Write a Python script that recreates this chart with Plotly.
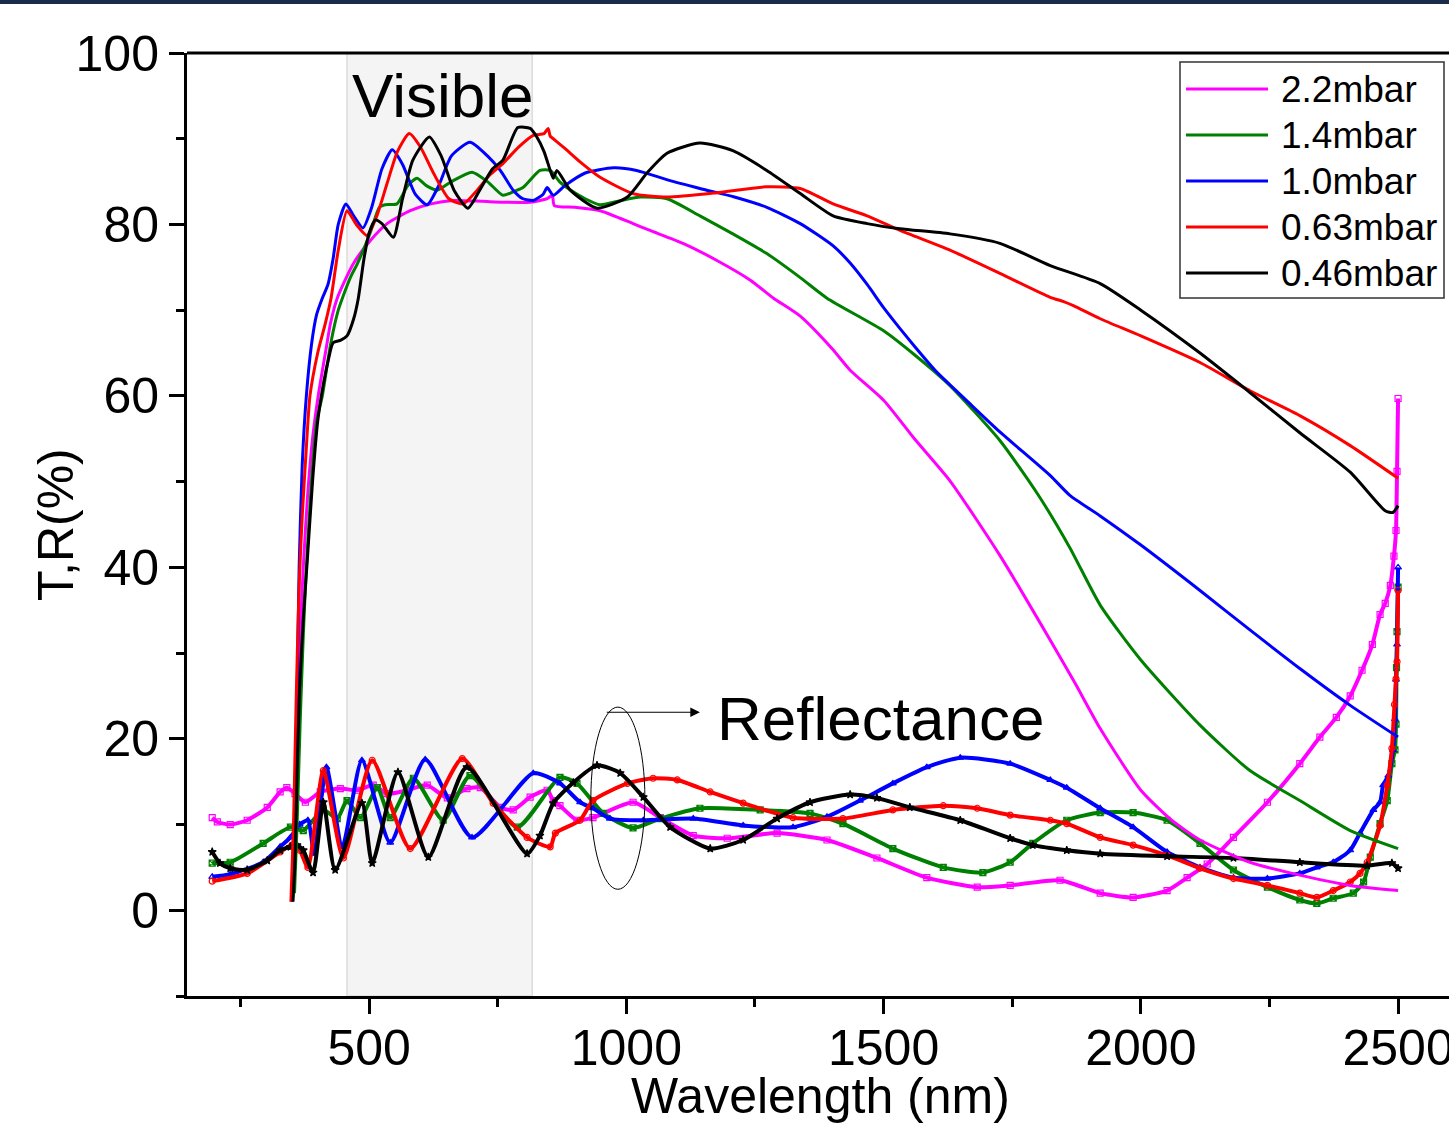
import plotly.graph_objects as go

# ---------------- data ----------------
names = ["2.2mbar", "1.4mbar", "1.0mbar", "0.63mbar", "0.46mbar"]
colors = ["#ff00ff", "#008000", "#0000ff", "#ff0000", "#000000"]
r_symbols = ["square-open", "square-x-open", "triangle-up-open", "circle-open", "star"]

x_ticks = [500, 1000, 1500, 2000, 2500]
y_ticks = [0, 20, 40, 60, 80, 100]

# Transmittance (wavelength nm, %)
T_22 = [(350, 1), (355, 8), (360, 20), (366, 32), (372, 40), (380, 48), (390, 55), (401, 60), (415, 65),
        (425, 68.5), (438, 71.4), (469, 75.4), (502, 78.1), (535, 80.1), (580, 81.6), (620, 82.4),
        (663, 82.8), (720, 82.7), (760, 82.6), (813, 82.6), (846, 83), (856, 83.4), (860, 82.2),
        (900, 82), (949, 81.6), (1013, 80.1), (1046, 79.3), (1110, 77.8), (1176, 75.8), (1241, 73.5),
        (1286, 71.4), (1338, 69.3), (1400, 65.5), (1435, 63), (1500, 59.5), (1560, 55), (1629, 50.1),
        (1726, 41.4), (1824, 31.5), (1872, 26.5), (1921, 21.2), (2000, 14), (2060, 10.5), (2115, 8.2),
        (2212, 5.6), (2309, 4.1), (2407, 2.9), (2500, 2.3)]
T_14 = [(355, 2), (360, 10), (366, 22), (372, 32), (378, 40), (388, 50), (398, 57), (409, 60), (425, 66),
        (440, 70), (448, 71.4), (465, 74), (477, 75.4), (502, 79), (520, 82), (531, 82.3), (554, 82.4),
        (575, 84.5), (593, 85.4), (612, 84.5), (632, 84), (660, 85), (700, 86.1), (730, 85), (760, 83.4),
        (780, 83.8), (799, 84.3), (832, 86.3), (852, 86.3), (870, 85), (884, 84.3), (920, 83), (949, 82.3),
        (990, 82.8), (1027, 83.2), (1079, 83), (1143, 81), (1207, 78.9), (1273, 76.6), (1338, 73.8),
        (1390, 71.4), (1500, 67.6), (1560, 64.8), (1629, 61.2), (1726, 54.8), (1800, 48.5), (1862, 42.3),
        (1921, 35.6), (2000, 29.2), (2115, 21.6), (2212, 16.3), (2309, 12.8), (2407, 9.3), (2500, 7.2)]
T_10 = [(350, 1), (355, 10), (360, 25), (364, 40), (370, 52), (378, 60), (388, 66), (398, 69.5), (409, 71.4),
        (420, 73), (430, 76), (440, 80), (455, 82.4), (470, 81), (488, 79.6), (505, 82), (525, 86.5),
        (545, 88.7), (565, 87), (590, 83.5), (613, 82.3), (635, 84.5), (660, 88), (696, 89.6), (730, 88),
        (755, 86.3), (780, 84), (799, 83), (819, 82.8), (838, 83.5), (846, 84.3), (858, 83.4), (880, 84.5),
        (920, 86), (975, 86.6), (1020, 86.3), (1080, 85.2), (1143, 84.2), (1210, 83.2), (1273, 82),
        (1338, 80.1), (1402, 77.5), (1435, 75.5), (1468, 73), (1500, 70.3), (1530, 68), (1560, 65.8),
        (1600, 63), (1629, 61.3), (1664, 59.3), (1726, 55.8), (1824, 50.7), (1862, 48.4), (1921, 46),
        (2000, 42.6), (2115, 37.3), (2212, 32.7), (2309, 28.2), (2407, 23.9), (2500, 20.2)]
T_063 = [(348, 1), (353, 10), (358, 24), (364, 38), (370, 46), (377, 53), (385, 60), (400, 65), (415, 68.5),
         (426, 71.4), (440, 77), (457, 81.6), (475, 80), (496, 78.7), (515, 81), (535, 84.8), (555, 88.5),
         (578, 90.6), (600, 89), (625, 86), (655, 83), (683, 82.4), (710, 84), (735, 85.8), (760, 87.1),
         (790, 89), (819, 90.4), (840, 90.6), (848, 91.2), (852, 90.3), (858, 90), (880, 88.9), (910, 87.3),
         (949, 85.5), (1013, 83.6), (1079, 83.2), (1176, 83.7), (1273, 84.4), (1338, 84.2), (1402, 82.4),
         (1468, 81), (1532, 79.3), (1629, 77), (1726, 74.3), (1824, 71.5), (1850, 71), (1870, 70.5),
         (1921, 69), (2000, 67), (2115, 63.9), (2212, 60.6), (2309, 57.7), (2407, 54.2), (2500, 50.4)]
T_046 = [(352, 1), (356, 6), (360, 16), (365, 26), (372, 34), (380, 41), (390, 50), (400, 57), (410, 61),
         (420, 64), (430, 66.2), (445, 66.5), (457, 67), (470, 69), (479, 71.4), (490, 76), (500, 79),
         (512, 80.5), (525, 80.1), (547, 78.5), (565, 83), (585, 87.5), (617, 90.2), (640, 88), (665, 84),
         (692, 81.9), (715, 84), (740, 86.5), (760, 87.5), (789, 91.3), (813, 91.2), (826, 90.2), (840, 88.5),
         (852, 86.3), (858, 85.4), (865, 86.3), (891, 84), (943, 81.9), (1002, 83.2), (1040, 86), (1079, 88.3),
         (1143, 89.5), (1207, 88.6), (1273, 86.3), (1338, 83.6), (1402, 81), (1468, 80.1), (1532, 79.5),
         (1629, 78.9), (1726, 77.8), (1824, 75.2), (1921, 73.1), (2000, 70), (2115, 65), (2212, 60.4),
         (2309, 55.7), (2407, 51.1), (2475, 46.6), (2490, 46.4), (2500, 47.2)]

# Reflectance (wavelength nm, %)
R_22 = [(195, 10.8), (205, 10.3), (230, 10.0), (263, 10.5), (302, 12.0), (327, 13.8), (340, 14.3), (356, 13.6),
        (376, 12.6), (405, 13.8), (444, 14.2), (477, 14.0), (508, 14.6), (535, 13.6), (574, 14.0), (613, 14.6),
        (652, 13.1), (690, 14.2), (716, 14.3), (755, 12.0), (780, 11.7), (813, 13.2), (846, 14.0), (858, 12.8),
        (871, 12.2), (904, 10.5), (935, 10.8), (1013, 12.6), (1066, 10.8), (1130, 8.7), (1196, 8.4),
        (1293, 9.0), (1390, 8.2), (1487, 6.1), (1584, 3.8), (1682, 2.7), (1746, 2.9), (1843, 3.5), (1921, 2.0),
        (1985, 1.5), (2051, 2.3), (2090, 3.8), (2129, 5.4), (2180, 8.5), (2246, 12.6), (2309, 17.1),
        (2348, 20.2), (2380, 22.5), (2407, 25), (2430, 28), (2450, 31), (2465, 34.5), (2475, 35.8),
        (2485, 37.9), (2492, 41.3), (2496, 44.3), (2498, 51.2), (2500, 59.7)]
R_14 = [(195, 5.5), (230, 5.6), (294, 7.8), (347, 9.7), (372, 9.3), (411, 11.7), (438, 10.7), (457, 12.8),
        (483, 10.8), (516, 14.3), (541, 10.8), (586, 15.4), (644, 10.5), (696, 15.7), (788, 9.7), (871, 15.5),
        (904, 14.8), (955, 11.3), (1013, 9.6), (1066, 10.7), (1143, 11.9), (1260, 11.7), (1357, 11.3),
        (1421, 10.1), (1518, 7.2), (1616, 5.0), (1693, 4.4), (1746, 5.6), (1790, 7.8), (1856, 10.5),
        (1921, 11.4), (1985, 11.4), (2051, 10.5), (2115, 7.8), (2180, 4.7), (2246, 2.7), (2309, 1.2),
        (2342, 0.8), (2374, 1.4), (2413, 2.0), (2433, 3.3), (2446, 6.2), (2465, 10.1), (2479, 12.8),
        (2488, 17.1), (2494, 18.7), (2496, 21.7), (2497, 28.3), (2498, 32.5), (2500, 37.7)]
R_10 = [(195, 3.9), (230, 4.2), (294, 5.6), (327, 7.4), (347, 8.5), (365, 10), (381, 10.5), (393, 6.6),
        (417, 16.7), (448, 7.4), (486, 17.5), (541, 7.9), (609, 17.6), (700, 8.5), (819, 16.0), (871, 14.8),
        (910, 12.6), (935, 11.9), (968, 10.7), (1033, 10.5), (1130, 10.7), (1227, 9.9), (1324, 9.7),
        (1390, 10.9), (1454, 12.8), (1518, 14.8), (1584, 16.7), (1649, 17.8), (1746, 17.1), (1824, 15.2),
        (1856, 14.3), (1921, 11.9), (1985, 9.7), (2051, 6.8), (2115, 5.0), (2180, 3.8), (2246, 3.7),
        (2309, 4.3), (2342, 5.0), (2374, 5.6), (2407, 7.0), (2426, 9.0), (2452, 11.7), (2465, 12.6),
        (2471, 14.6), (2481, 15.7), (2490, 18.7), (2494, 22.3), (2496, 26.9), (2498, 31), (2500, 40)]
R_063 = [(195, 3.4), (263, 4.3), (327, 6.8), (350, 7.6), (365, 7), (381, 5.0), (411, 16.3), (450, 6.1),
         (506, 17.5), (580, 7.2), (681, 17.7), (741, 12.5), (807, 8.5), (852, 7.4), (862, 9.0), (910, 10.5),
         (935, 12.8), (1002, 14.8), (1052, 15.4), (1099, 15.2), (1163, 13.8), (1227, 12.5), (1324, 10.8),
         (1421, 10.7), (1518, 11.7), (1616, 12.2), (1682, 11.9), (1746, 11.1), (1824, 10.5), (1856, 10.1),
         (1921, 8.5), (1985, 7.6), (2051, 6.4), (2115, 4.9), (2180, 3.7), (2246, 2.9), (2309, 2.0),
         (2342, 1.5), (2374, 2.3), (2407, 3.3), (2426, 4.3), (2440, 5.6), (2465, 9.9), (2479, 14.6),
         (2488, 18.9), (2493, 24), (2496, 27), (2498, 29), (2500, 37.3)]
R_046 = [(195, 6.8), (210, 5.5), (230, 4.9), (263, 4.7), (302, 5.8), (327, 7.0), (347, 7.4), (360, 7.6),
         (372, 7.0), (391, 4.4), (411, 12.6), (434, 4.7), (486, 12.5), (506, 5.5), (556, 16.1), (615, 6.2),
         (690, 16.7), (807, 6.6), (832, 8.7), (858, 12.5), (897, 14.9), (943, 16.9), (988, 16.0),
         (1033, 13.2), (1085, 9.7), (1163, 7.2), (1227, 8.2), (1293, 10.7), (1357, 12.6), (1435, 13.5),
         (1487, 13.1), (1551, 12.0), (1649, 10.5), (1746, 8.4), (1790, 7.6), (1856, 7.0), (1921, 6.6),
         (2051, 6.3), (2180, 6.1), (2309, 5.6), (2440, 5.2), (2488, 5.5), (2500, 4.9)]

T_all = [T_22, T_14, T_10, T_063, T_046]
R_all = [R_22, R_14, R_10, R_063, R_046]

visible_band = (457, 817)

# ---------------- figure ----------------
W, H = 1449, 1126
ML, MT, MB, MR = 187, 53, 130, 0
FONT = "Liberation Sans, Arial, sans-serif"

fig = go.Figure()

for name, c, sym, R in zip(names, colors, r_symbols, R_all):
    fig.add_trace(go.Scatter(
        x=[p[0] for p in R], y=[p[1] for p in R], mode="lines+markers", name=name + " R",
        line=dict(color=c, width=4, shape="spline", smoothing=0.6),
        marker=dict(symbol=sym, size=6, color=c, line=dict(color=c, width=1.2)),
        showlegend=False))

for name, c, T in zip(names, colors, T_all):
    fig.add_trace(go.Scatter(
        x=[p[0] for p in T], y=[p[1] for p in T], mode="lines", name=name + " T",
        line=dict(color=c, width=3, shape="spline", smoothing=0.6),
        showlegend=False))

pw = W - ML - MR
ph = H - MT - MB


def px2paper_x(px):
    return (px - ML) / pw


def px2paper_y(py):
    return (H - MB - py) / ph


shapes = [
    # visible band
    dict(type="rect", xref="x", yref="y", x0=visible_band[0], x1=visible_band[1], y0=-10, y1=100,
         fillcolor="#f4f4f4", line=dict(color="#dcdcdc", width=1.5), layer="below"),
    # top frame line
    dict(type="line", xref="paper", yref="paper", x0=0, x1=1, y0=1, y1=1,
         line=dict(color="black", width=3)),
    # dark band at the very top of the image
    dict(type="rect", xref="paper", yref="paper", x0=px2paper_x(0), x1=px2paper_x(W),
         y0=px2paper_y(4), y1=px2paper_y(-2), fillcolor="#1b2c4b", line=dict(width=0)),
    # ellipse around reflectance near 1000 nm
    dict(type="circle", xref="x", yref="y", x0=931, x1=1036, y0=2.45, y1=23.7,
         line=dict(color="black", width=1)),
]

# manual legend
leg_x0, leg_x1, leg_y0, leg_y1 = 1180, 1444, 62, 298
shapes.append(dict(type="rect", xref="paper", yref="paper",
                   x0=px2paper_x(leg_x0), x1=px2paper_x(leg_x1),
                   y0=px2paper_y(leg_y1), y1=px2paper_y(leg_y0),
                   fillcolor="white", line=dict(color="#333333", width=1.5)))
annotations = []
row_y = [89, 135, 181, 227, 273]
for name, c, ry in zip(names, colors, row_y):
    shapes.append(dict(type="line", xref="paper", yref="paper",
                       x0=px2paper_x(1186), x1=px2paper_x(1268),
                       y0=px2paper_y(ry), y1=px2paper_y(ry),
                       line=dict(color=c, width=3)))
    annotations.append(dict(xref="paper", yref="paper", x=px2paper_x(1279), y=px2paper_y(ry),
                            xanchor="left", yanchor="middle", text=name, showarrow=False,
                            font=dict(family=FONT, size=37, color="black")))

annotations += [
    dict(xref="x", yref="y", x=644, y=95, text="Visible", showarrow=False,
         xanchor="center", yanchor="middle", font=dict(family=FONT, size=62, color="black")),
    dict(xref="x", yref="y", x=1172, y=22.4, text="Reflectance", showarrow=False,
         xanchor="left", yanchor="middle", font=dict(family=FONT, size=62, color="black")),
    dict(xref="x", yref="y", x=1143, y=23.1, ax=959, ay=23.1, axref="x", ayref="y",
         text="", showarrow=True, arrowhead=2, arrowsize=1.6, arrowwidth=1.2, arrowcolor="black"),
    # axis titles
    dict(xref="paper", yref="paper", x=px2paper_x(820), y=px2paper_y(1096),
         text="Wavelength (nm)", showarrow=False, xanchor="center", yanchor="middle",
         font=dict(family=FONT, size=50, color="black")),
    dict(xref="paper", yref="paper", x=px2paper_x(56), y=px2paper_y(525),
         text="T,R(%)", showarrow=False, xanchor="center", yanchor="middle", textangle=-90,
         font=dict(family=FONT, size=50, color="black")),
]

fig.update_layout(
    template="none",
    width=W, height=H,
    margin=dict(l=ML, r=MR, t=MT, b=MB, pad=0, autoexpand=False),
    paper_bgcolor="white", plot_bgcolor="white",
    font=dict(family=FONT, color="black"),
    showlegend=False,
    shapes=shapes, annotations=annotations,
    xaxis=dict(range=[146, 2599], showgrid=False, zeroline=False, automargin=False,
               showline=True, linecolor="black", linewidth=3,
               ticks="outside", ticklen=15, tickwidth=3, tickcolor="black",
               tickvals=x_ticks, ticktext=[str(v) for v in x_ticks],
               tickfont=dict(family=FONT, size=50),
               ticklabeloverflow="allow", ticklabelstandoff=-9,
               minor=dict(ticks="outside", ticklen=8, tickwidth=3, tickcolor="black",
                          tickvals=[250, 750, 1250, 1750, 2250])),
    yaxis=dict(range=[-10, 100], showgrid=False, zeroline=False, automargin=False,
               showline=True, linecolor="black", linewidth=3,
               ticks="outside", ticklen=15, tickwidth=3, tickcolor="black",
               tickvals=y_ticks, ticktext=[str(v) for v in y_ticks],
               tickfont=dict(family=FONT, size=50),
               minor=dict(ticks="outside", ticklen=8, tickwidth=3, tickcolor="black",
                          tickvals=[-10, 10, 30, 50, 70, 90])),
)

fig.write_html("out.html", config={"displayModeBar": False},
               post_script="document.body.style.margin='0';document.body.style.overflow='hidden';")
